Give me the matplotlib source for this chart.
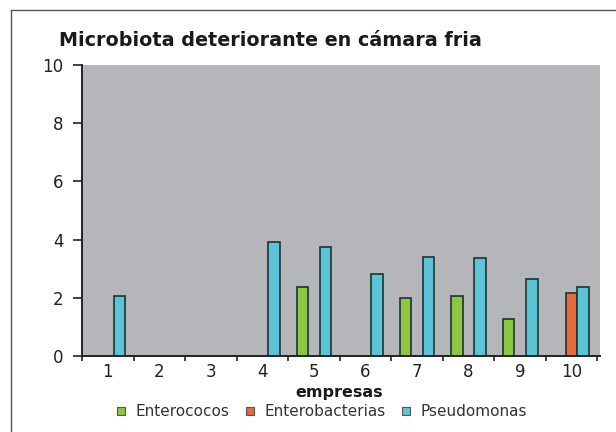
import matplotlib
matplotlib.use("Agg")
import matplotlib.pyplot as plt
import numpy as np
from matplotlib.patches import Patch
from matplotlib.lines import Line2D

# data
empresas = ["1", "2", "3", "4", "5", "6", "7", "8", "9", "10"]
enterococos = [0, 0, 0, 0, 2.36, 0, 1.98, 2.07, 1.26, 0]
enterobacterias = [0, 0, 0, 0, 0, 0, 0, 0, 0, 2.15]
pseudomonas = [2.06, 0, 0, 3.93, 3.76, 2.82, 3.39, 3.36, 2.64, 2.36]
series_names = ["Enterococos", "Enterobacterias", "Pseudomonas"]
y_ticks = [0, 2, 4, 6, 8, 10]

colors = ["#8dc63f", "#e8693a", "#5bc5d6"]
edge = "#1d3236"
bg = "#b4b6b9"

fig = plt.figure(figsize=(6.16, 4.32), dpi=100)
ax = fig.add_axes([82 / 616, 1 - 356 / 432, 518 / 616, 291 / 432])
ax.set_facecolor(bg)

x = np.arange(1, len(empresas) + 1)
w = 0.225
for i, (vals, col) in enumerate(zip([enterococos, enterobacterias, pseudomonas], colors)):
    v = np.array(vals, dtype=float)
    v[v == 0] = np.nan  # empty cells are not drawn
    ax.bar(x + (i - 1) * w, v, width=w, color=col, edgecolor=edge, linewidth=1.2, zorder=2)

ax.set_xlim(0.5, 10.55)
ax.set_ylim(0, 10)
ax.set_yticks(y_ticks)
ax.set_xticks(x)
ax.set_xticklabels(empresas)
ax.set_xticks(np.arange(0.5, 11, 1), minor=True)

ax.tick_params(axis="y", direction="out", length=6.5, width=1.2, color="#222222",
               labelsize=12, pad=7, labelcolor="#222222")
ax.tick_params(axis="x", which="major", length=0, labelsize=12, pad=5, labelcolor="#222222")
ax.tick_params(axis="x", which="minor", direction="out", length=3.5, width=1.2, color="#222222")

for s in ["top", "right"]:
    ax.spines[s].set_visible(False)
for s in ["left", "bottom"]:
    ax.spines[s].set_color("#222222")
    ax.spines[s].set_linewidth(1.4)
    ax.spines[s].set_zorder(3)

fig.text(270 / 616, 1 - 40 / 432, "Microbiota deteriorante en cámara fria",
         ha="center", va="center", fontsize=13.8, fontweight="bold", color="#1a1a1a")
fig.text(339 / 616, 1 - 393 / 432, "empresas", ha="center", va="center",
         fontsize=11.5, fontweight="bold", color="#1a1a1a")

handles = [Patch(facecolor=c, edgecolor="#555555", linewidth=0.8) for c in colors]
fig.legend(handles, series_names, loc="center", bbox_to_anchor=(322 / 616, 1 - 412 / 432),
           ncol=3, frameon=False, fontsize=11, handlelength=0.5, handleheight=0.5,
           handletextpad=0.7, columnspacing=1.1, labelcolor="#333333")

# outer frame (left and top visible in the reference)
fig.add_artist(Line2D([11 / 616, 11 / 616], [0, 1 - 10 / 432], transform=fig.transFigure,
                      color="#555555", linewidth=1.0))
fig.add_artist(Line2D([11 / 616, 1], [1 - 10 / 432, 1 - 10 / 432], transform=fig.transFigure,
                      color="#555555", linewidth=1.0))

fig.savefig("out.png", dpi=100)
